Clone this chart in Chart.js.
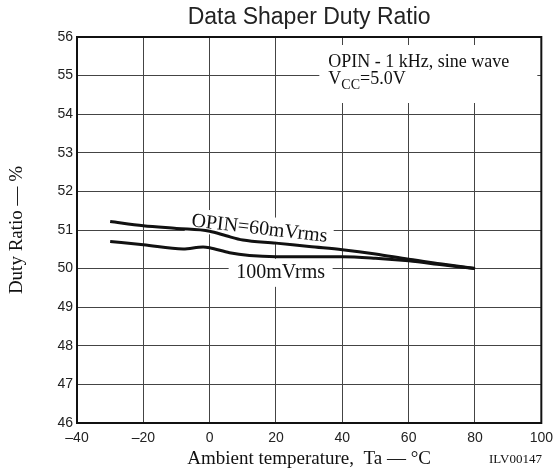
<!DOCTYPE html>
<html>
<head>
<meta charset="utf-8">
<script src="https://cdn.jsdelivr.net/npm/chart.js@4/dist/chart.umd.min.js"></script>
<style>
  html, body { margin: 0; padding: 0; background: #fff; }
  canvas { display: block; }
</style>
</head>
<body>
<canvas id="dutyChart" width="560" height="470"></canvas>
<script>
// Duty ratio vs ambient temperature, two input levels
const temp60 = [-30, -20, -10, 0, 5, 10, 20, 30, 40, 50, 60, 70, 80];
const ratio60 = [51.22, 51.11, 51.04, 50.97, 50.85, 50.74, 50.66, 50.57, 50.49, 50.38, 50.24, 50.12, 50.0];

const temp100 = [-30, -20, -8, -2, 0, 6, 12, 20, 30, 40, 50, 60, 70, 80];
const ratio100 = [50.70, 50.62, 50.51, 50.56, 50.54, 50.41, 50.34, 50.31, 50.31, 50.31, 50.27, 50.20, 50.10, 50.0];

const xTicks = [-40, -20, 0, 20, 40, 60, 80, 100];
const yTicks = [46, 47, 48, 49, 50, 51, 52, 53, 54, 55, 56];

const serif = '"Liberation Serif", "Times New Roman", serif';
const sans = '"Liberation Sans", Arial, sans-serif';

const points = (xs, ys) => xs.map((t, i) => ({ x: t, y: ys[i] }));

// labels, condition box, frame and centred title
const notes = {
  id: 'notes',
  beforeDatasetsDraw(chart) {
    const { ctx, chartArea: a, scales: { x, y } } = chart;
    ctx.save();
    ctx.fillStyle = '#fff';
    ctx.fillRect(a.right - 222, a.top + 8, 218, 58);

    ctx.fillStyle = '#111';
    ctx.textBaseline = 'alphabetic';
    ctx.textAlign = 'left';
    ctx.font = '18px ' + serif;
    const tx = a.right - 213;
    ctx.fillText('OPIN - 1 kHz, sine wave', tx, a.top + 30);
    ctx.fillText('V', tx, a.top + 47);
    const vw = ctx.measureText('V').width;
    ctx.font = '14px ' + serif;
    ctx.fillText('CC', tx + vw, a.top + 52);
    const cw = ctx.measureText('CC').width;
    ctx.font = '18px ' + serif;
    ctx.fillText('=5.0V', tx + vw + cw, a.top + 47);

    // curve labels
    ctx.textAlign = 'center';
    ctx.textBaseline = 'middle';
    ctx.font = '20px ' + serif;

    ctx.save();
    ctx.translate(x.getPixelForValue(15), y.getPixelForValue(51.03));
    ctx.rotate(6.5 * Math.PI / 180);
    ctx.fillStyle = '#fff';
    ctx.fillRect(-74, -13, 148, 24);
    ctx.fillStyle = '#111';
    ctx.fillText('OPIN=60mVrms', 0, 0);
    ctx.restore();

    const lx = x.getPixelForValue(21.4), ly = y.getPixelForValue(49.89);
    ctx.fillStyle = '#fff';
    ctx.fillRect(lx - 52, ly - 14, 104, 28);
    ctx.fillStyle = '#111';
    ctx.fillText('100mVrms', lx, ly);
    ctx.restore();
  },
  afterDraw(chart) {
    const { ctx, chartArea: a } = chart;
    ctx.save();
    ctx.strokeStyle = '#111';
    ctx.lineWidth = 2;
    ctx.strokeRect(a.left, a.top, a.width, a.height);

    ctx.fillStyle = '#222';
    ctx.font = '23px ' + sans;
    ctx.textAlign = 'center';
    ctx.textBaseline = 'middle';
    ctx.fillText('Data Shaper Duty Ratio', (a.left + a.right) / 2, 18);

    ctx.fillStyle = '#111';
    ctx.font = '13px ' + serif;
    ctx.textAlign = 'right';
    ctx.fillText('ILV00147', 542, 460);
    ctx.restore();
  }
};

const dash = v => String(v).replace('-', '\u2013');

new Chart(document.getElementById('dutyChart'), {
  type: 'line',
  data: {
    datasets: [
      {
        label: 'OPIN=60mVrms',
        data: points(temp60, ratio60),
        borderColor: '#111',
        borderWidth: 3,
        pointRadius: 0,
        cubicInterpolationMode: 'monotone'
      },
      {
        label: '100mVrms',
        data: points(temp100, ratio100),
        borderColor: '#111',
        borderWidth: 3,
        pointRadius: 0,
        cubicInterpolationMode: 'monotone'
      }
    ]
  },
  options: {
    responsive: false,
    animation: false,
    layout: { padding: { top: 37, right: 15, left: 0, bottom: 0 } },
    plugins: {
      legend: { display: false },
      tooltip: { enabled: false },
      title: { display: false }
    },
    scales: {
      x: {
        type: 'linear',
        min: xTicks[0],
        max: xTicks[xTicks.length - 1],
        afterBuildTicks: s => { s.ticks = xTicks.map(v => ({ value: v })); },
        afterFit: s => { s.height = 47; },
        grid: { color: '#444', lineWidth: 1, drawTicks: false },
        border: { display: false },
        ticks: {
          padding: 7,
          color: '#222',
          font: { family: sans, size: 14 },
          callback: dash
        },
        title: {
          display: true,
          text: 'Ambient temperature,  Ta \u2014 \u00b0C',
          color: '#111',
          font: { family: serif, size: 19 },
          padding: { top: 0, bottom: 0 }
        }
      },
      y: {
        min: yTicks[0],
        max: yTicks[yTicks.length - 1],
        afterBuildTicks: s => { s.ticks = yTicks.map(v => ({ value: v })); },
        afterFit: s => { s.width = 77; },
        grid: { color: '#444', lineWidth: 1, drawTicks: false },
        border: { display: false },
        ticks: {
          padding: 4,
          color: '#222',
          font: { family: sans, size: 14 },
          callback: dash
        },
        title: {
          display: true,
          text: 'Duty Ratio \u2014 %',
          color: '#111',
          font: { family: serif, size: 19 },
          padding: { top: 6, bottom: 0 }
        }
      }
    }
  },
  plugins: [notes]
});
</script>
</body>
</html>
